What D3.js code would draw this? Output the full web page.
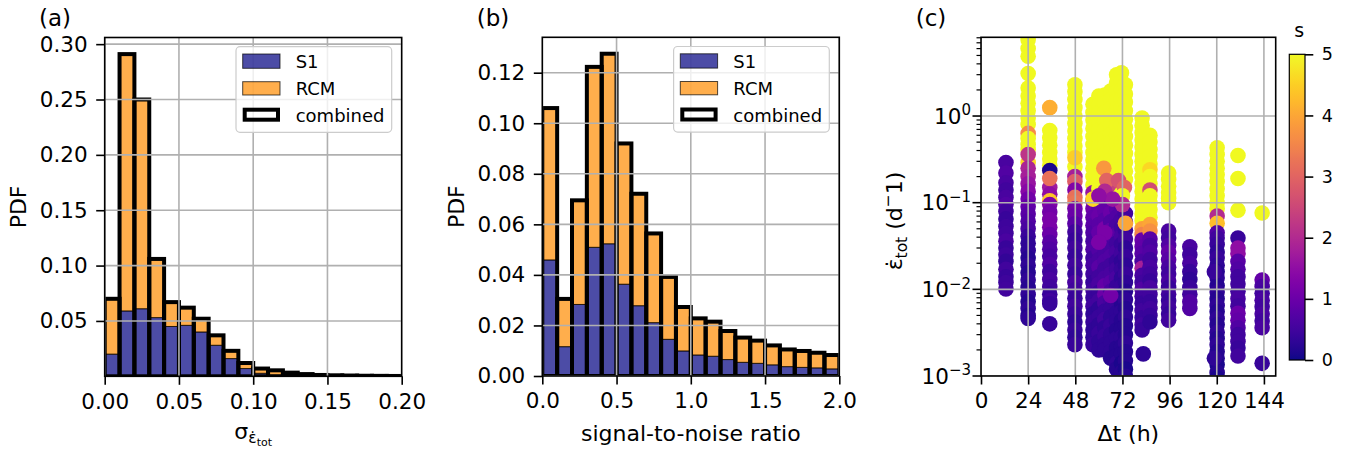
<!DOCTYPE html>
<html><head><meta charset="utf-8">
<script src="https://cdn.jsdelivr.net/npm/d3@7"></script>
<style>
body{margin:0;background:#fff;}
svg{display:block;font-family:"DejaVu Sans",sans-serif;}
</style></head><body>
<svg id="fig" width="1346" height="449"></svg>
<script>
// ---------------- data ----------------
const sigmaEdges = [0.00,0.01,0.02,0.03,0.04,0.05,0.06,0.07,0.08,0.09,0.10,0.11,0.12,0.13,0.14,0.15,0.16,0.17,0.18,0.19,0.20];
const sigmaS1  = [0.020,0.059,0.061,0.053,0.045,0.046,0.040,0.028,0.016,0.007,0.0027,0.001,0.0005,0.0003,0.0002,0.0001,0.0001,0.0001,0,0];
const sigmaRCM = [0.050,0.232,0.189,0.053,0.022,0.016,0.012,0.009,0.007,0.005,0.0043,0.0044,0.0028,0.0017,0.001,0.0008,0.0006,0.0004,0.0004,0.0003];
const sigmaXTicks = [0,0.05,0.10,0.15,0.20];
const sigmaYTicks = [0.05,0.10,0.15,0.20,0.25,0.30];

const snrEdges = [0.0,0.1,0.2,0.3,0.4,0.5,0.6,0.7,0.8,0.9,1.0,1.1,1.2,1.3,1.4,1.5,1.6,1.7,1.8,1.9,2.0];
const snrS1  = [0.0459,0.0116,0.0283,0.0509,0.0523,0.0363,0.0278,0.0211,0.0145,0.0099,0.0083,0.0078,0.0065,0.0054,0.0050,0.0044,0.0037,0.0034,0.0032,0.0028];
const snrRCM = [0.0601,0.0189,0.0412,0.0714,0.0752,0.0557,0.0443,0.0353,0.0247,0.0174,0.0145,0.0137,0.0113,0.0098,0.0090,0.0077,0.0068,0.0065,0.0060,0.0055];
const snrXTicks = [0,0.5,1.0,1.5,2.0];
const snrYTicks = [0,0.02,0.04,0.06,0.08,0.10,0.12];

const legendLabels = ["S1","RCM","combined"];

// panel (c): [rate (1/d), s] per Δt column
const pts12 = [[0.29,0.6],[0.22,0.7],[0.17,0.6],[0.14,0.5],[0.115,0.6],[0.095,0.7],[0.079,0.5],[0.065,0.4],[0.053,0.45],[0.044,0.5],[0.036,0.6],[0.03,0.4],[0.025,0.45],[0.021,0.35],[0.017,0.5],[0.014,0.4],[0.012,0.45],[0.0101,0.5]];
const pts24 = [[7.6,5],[6.0,5],[4.9,5],[3.1,5],[2.1,5],[1.7,5],[1.4,5],[1.15,5],[0.95,5],[0.8,5],[0.63,3.6],[0.55,5],[0.47,5],[0.41,5],[0.29,4.6],[0.36,2.2],[0.25,1.9],[0.2,1.8],[0.165,1.6],[0.135,1.4],[0.11,1.1],[0.09,0.9],[0.074,0.8],[0.061,0.7],[0.05,0.6],[0.041,0.4],[0.034,0.3],[0.028,0.3],[0.023,0.2],[0.019,0.3],[0.0155,0.2],[0.0128,0.3],[0.0105,0.2],[0.0087,0.3],[0.0072,0.2],[0.006,0.3],[0.005,0.2],[0.0046,0.3]];
const pts36 = [[1.25,4.1],[0.68,5],[0.56,5],[0.46,5],[0.38,5],[0.32,5],[0.27,5],[0.235,0.1],[0.15,1.7],[0.19,3.2],[0.125,1.5],[0.105,4.4],[0.095,1.3],[0.078,1.1],[0.064,1.2],[0.052,1.2],[0.043,1.0],[0.035,0.8],[0.029,0.7],[0.024,0.6],[0.0195,0.7],[0.016,0.5],[0.013,0.6],[0.0107,0.5],[0.0088,0.4],[0.0074,0.5],[0.0068,0.4],[0.004,0.4]];
const pts48 = [[2.3,5],[1.9,5],[1.55,5],[1.25,5],[1.0,5],[0.82,5],[0.67,5],[0.55,5],[0.45,5],[0.38,5],[0.26,5],[0.33,4.5],[0.2,1.8],[0.175,2.9],[0.14,1.3],[0.115,3.2],[0.1,3.3],[0.085,1.1],[0.07,1.0],[0.057,0.8],[0.046,0.5],[0.037,0.4],[0.03,0.5],[0.024,0.4],[0.019,0.5],[0.015,0.4],[0.012,0.6],[0.0098,0.5],[0.0079,0.4],[0.0064,0.5],[0.0052,0.4],[0.0042,0.3],[0.0034,0.4],[0.0028,0.3],[0.0023,0.4]];
const pts57 = [[1.37,5],[1.1,5],[0.9,5],[0.72,5],[0.58,5],[0.47,5],[0.38,5],[0.31,5],[0.25,5],[0.2,5],[0.16,5],[0.13,1.6],[0.105,1.3],[0.085,1.1],[0.068,0.9],[0.055,0.8],[0.045,0.7],[0.036,0.6],[0.029,0.7],[0.023,0.5],[0.019,0.6],[0.015,0.5],[0.012,0.4],[0.0098,0.5],[0.008,0.4],[0.0064,0.5],[0.0052,0.3],[0.0042,0.4],[0.0034,0.3],[0.0028,0.3],[0.0023,0.4]];
const pts60 = [[1.7,5],[1.35,5],[1.08,5],[0.86,5],[0.69,5],[0.55,5],[0.44,5],[0.35,5],[0.28,5],[0.22,5],[0.18,5],[0.145,5],[0.11,1.2],[0.088,0.9],[0.07,1.0],[0.056,0.8],[0.045,0.9],[0.035,1.2],[0.028,0.7],[0.022,0.6],[0.018,0.8],[0.014,0.5],[0.0115,0.6],[0.0092,0.4],[0.0074,0.5],[0.006,0.3],[0.0048,0.4],[0.0039,0.3],[0.0031,0.4],[0.0025,0.3],[0.002,0.3]];
const pts63 = [[1.75,5],[1.4,5],[1.1,5],[0.88,5],[0.7,5],[0.56,5],[0.45,5],[0.36,5],[0.29,5],[0.23,5],[0.19,5],[0.15,5],[0.125,5],[0.1,1.1],[0.08,0.9],[0.063,0.8],[0.05,1.2],[0.04,1.1],[0.032,0.8],[0.026,0.6],[0.021,0.7],[0.017,0.5],[0.0135,0.6],[0.011,0.9],[0.0088,1.0],[0.007,0.6],[0.0056,0.4],[0.0045,0.5],[0.0036,0.3],[0.0029,0.4],[0.0023,0.3],[0.002,0.3]];
const pts66 = [[1.94,5],[1.55,5],[1.22,5],[0.97,5],[0.77,5],[0.61,5],[0.49,5],[0.39,5],[0.31,5],[0.25,5],[0.2,5],[0.16,5],[0.13,5],[0.095,0.9],[0.076,1.0],[0.06,0.7],[0.048,0.9],[0.038,0.8],[0.03,0.6],[0.024,0.7],[0.019,0.5],[0.015,0.6],[0.012,0.8],[0.0095,0.6],[0.0076,0.5],[0.006,0.4],[0.0048,0.3],[0.0038,0.4],[0.003,0.3],[0.0024,0.3],[0.0019,0.3],[0.0016,0.2]];
const pts69 = [[3.0,5],[2.4,5],[1.9,5],[1.5,5],[1.2,5],[0.95,5],[0.76,5],[0.6,5],[0.48,5],[0.38,5],[0.3,5],[0.24,5],[0.19,5],[0.15,5],[0.12,5],[0.085,0.8],[0.068,0.7],[0.054,0.6],[0.043,0.8],[0.034,0.5],[0.027,0.6],[0.021,0.4],[0.017,0.5],[0.0135,0.6],[0.0107,0.4],[0.0085,0.3],[0.0068,0.4],[0.0054,0.3],[0.0043,0.3],[0.0034,0.2],[0.0027,0.3],[0.0021,0.2],[0.0017,0.2],[0.0014,0.3],[0.0012,0.2]];
const pts71 = [[3.16,5],[2.5,5],[2.0,5],[1.6,5],[1.25,5],[1.0,5],[0.8,5],[0.63,5],[0.5,5],[0.4,5],[0.32,5],[0.25,5],[0.2,5],[0.16,5],[0.13,5],[0.08,0.7],[0.064,0.6],[0.051,0.5],[0.041,0.6],[0.033,0.4],[0.026,0.5],[0.021,0.3],[0.017,0.4],[0.0135,0.3],[0.0108,0.4],[0.0086,0.3],[0.0069,0.2],[0.0055,0.3],[0.0044,0.2],[0.0035,0.2],[0.0028,0.3],[0.0022,0.2],[0.0018,0.2],[0.0014,0.1],[0.0011,0.2]];
const pts73 = [[2.3,5],[1.8,5],[1.45,5],[1.15,5],[0.92,5],[0.73,5],[0.58,5],[0.46,5],[0.37,5],[0.29,5],[0.23,5],[0.185,5],[0.075,0.5],[0.06,0.6],[0.048,0.4],[0.038,0.5],[0.03,0.3],[0.024,0.4],[0.019,0.3],[0.015,0.4],[0.012,0.3],[0.0095,0.2],[0.0076,0.3],[0.006,0.2],[0.0048,0.3],[0.0038,0.2],[0.003,0.2],[0.0024,0.3],[0.0019,0.2],[0.0015,0.2],[0.0012,0.1],[0.001,0.2]];
const pts82 = [[0.95,5],[0.78,5],[0.64,5],[0.53,5],[0.44,5],[0.36,5],[0.3,5],[0.25,5],[0.2,5],[0.165,5],[0.135,5],[0.11,5],[0.09,5],[0.074,5],[0.062,5],[0.05,3.9],[0.043,3.5],[0.037,1.0],[0.031,0.9],[0.026,0.8],[0.021,0.6],[0.0175,1.8],[0.0145,0.6],[0.012,0.5],[0.01,0.7],[0.0083,0.5],[0.0069,0.4],[0.0057,0.5],[0.0047,0.4],[0.0039,0.5],[0.0034,0.4]];
const pts86 = [[0.6,5],[0.5,5],[0.41,5],[0.34,5],[0.28,5],[0.24,4.6],[0.2,5],[0.165,5],[0.14,2.6],[0.12,5],[0.1,5],[0.083,5],[0.068,5],[0.056,4.0],[0.047,3.7],[0.038,0.8],[0.032,0.6],[0.027,0.7],[0.022,0.5],[0.018,0.6],[0.015,0.5],[0.0125,0.4],[0.0104,0.6],[0.0087,0.5],[0.0072,0.4],[0.006,0.5],[0.005,0.4],[0.0042,0.3]];
const pts96 = [[0.22,5],[0.185,5],[0.155,5],[0.13,5],[0.112,5],[0.1,5],[0.047,0.6],[0.039,0.5],[0.032,0.7],[0.027,0.9],[0.022,0.8],[0.018,0.6],[0.015,0.5],[0.0125,0.6],[0.0105,0.4],[0.0088,0.5],[0.0074,0.4],[0.0062,0.5],[0.0052,0.4],[0.0044,0.5]];
const pts108 = [[0.031,0.6],[0.025,0.5],[0.02,0.6],[0.016,0.4],[0.013,0.3],[0.0105,0.4],[0.0088,0.5],[0.0072,0.7],[0.006,0.7]];
const pts120 = [[0.43,5],[0.36,5],[0.3,5],[0.25,5],[0.21,5],[0.175,5],[0.145,5],[0.12,5],[0.1,5],[0.085,5],[0.07,2.0],[0.058,4.3],[0.045,0.7],[0.039,0.5],[0.033,0.4],[0.027,0.3],[0.023,0.4],[0.019,0.3],[0.016,0.2],[0.0135,0.3],[0.011,0.2],[0.0093,0.3],[0.0078,0.2],[0.0065,0.3],[0.0055,0.2],[0.0046,0.3],[0.0039,0.2],[0.0032,0.3],[0.0027,0.2],[0.0023,0.3],[0.0019,0.2],[0.0016,0.2],[0.00135,0.1],[0.0011,0.2],[0.00095,0.1]];
const pts130 = [[0.35,5],[0.19,5],[0.082,5],[0.039,0.4],[0.03,1.5],[0.026,1.5],[0.021,0.8],[0.017,0.7],[0.014,0.5],[0.0115,0.5],[0.0095,0.5],[0.0078,0.6],[0.0064,0.5],[0.0053,1.0],[0.0044,0.9],[0.0036,0.7],[0.003,0.5],[0.0025,0.5],[0.0021,0.4],[0.0017,0.5]];
const pts144 = [[0.076,5],[0.0128,0.9],[0.0108,0.6],[0.009,0.5],[0.0075,0.6],[0.0063,0.5],[0.0052,0.6],[0.0043,0.5],[0.0036,0.6],[0.0014,0.4]];
const columnDt = [12.7,24,35,47.8,57,60,63,66,69,71.5,73.5,82,86,95.5,106.3,120.2,130.8,143.1];
const columnPts = [pts12,pts24,pts36,pts48,pts57,pts60,pts63,pts66,pts69,pts71,pts73,pts82,pts86,pts96,pts108,pts120,pts130,pts144];
// points drawn last: [Δt, rate, s]
const extraPts = [[62.5,0.25,3.8],[65,0.16,2.4],[64,0.18,3.0],[63,0.135,2.0],[57,0.11,4.6],[70,0.18,2.7],[73,0.15,3.0],[72,0.12,5],[72,0.095,2.0],[73.5,0.058,4.0],[67,0.11,1.6],[60,0.12,1.5],[82.6,0.0018,0.3],[118.8,0.016,0.4],[118.8,0.0016,0.3],[63,0.045,1.2],[66,0.0085,1.1],[60,0.035,1.2]];
const dtTicks = [0,24,48,72,96,120,144];
const rateTicks = [1e-3,1e-2,1e-1,1];
const rateExp = ["\u22123","\u22122","\u22121","0"];
const sTicks = [0,1,2,3,4,5];

// ---------------- drawing ----------------
const svg = d3.select('#fig');
const TICKFS = 21.5, LABFS = 22, LEGFS = 18, TAGFS = 23, TAGY = 25.5;
const GRID = '#b0b0b0';

function styleAxis(ax, fs){
  ax.select('.domain').remove();
  ax.selectAll('line').attr('stroke','#000').attr('stroke-width',1.6);
  ax.selectAll('text').attr('font-size',fs).attr('fill','#000').attr('font-family','DejaVu Sans');
}

function legend(g, xr, yt){
  const bx = xr-165.7, by = yt+9.2;
  g.append('rect').attr('x',bx).attr('y',by).attr('width',155.7).attr('height',85.6)
    .attr('rx',4).attr('fill','#fff').attr('fill-opacity',0.8).attr('stroke','#cccccc').attr('stroke-width',1.2);
  const px = bx+6.7;
  g.append('rect').attr('x',px).attr('y',by+7.3).attr('width',37.3).attr('height',14.3)
    .attr('fill','#000080').attr('fill-opacity',0.7).attr('stroke','#000').attr('stroke-opacity',0.7).attr('stroke-width',1);
  g.append('rect').attr('x',px).attr('y',by+35).attr('width',37.3).attr('height',13.3)
    .attr('fill','#ff8c00').attr('fill-opacity',0.7).attr('stroke','#000').attr('stroke-opacity',0.7).attr('stroke-width',1);
  g.append('rect').attr('x',px+2).attr('y',by+63).attr('width',33.3).attr('height',10)
    .attr('fill','none').attr('stroke','#000').attr('stroke-width',4);
  const base = [21.6,48.3,75];
  legendLabels.forEach((t,i)=>{
    g.append('text').attr('x',bx+59.7).attr('y',by+base[i]).attr('font-size',LEGFS).text(t);
  });
}

function histPanel(o){
  const g = svg.append('g');
  const x = d3.scaleLinear().domain(o.xDom).range([o.x0,o.x1]);
  const y = d3.scaleLinear().domain(o.yDom).range([o.y1,o.y0]);
  svg.append('clipPath').attr('id',o.id).append('rect')
    .attr('x',o.x0).attr('y',o.y0).attr('width',o.x1-o.x0).attr('height',o.y1-o.y0);
  const plot = g.append('g').attr('clip-path',`url(#${o.id})`);
  const bins = o.s1.map((v,i)=>({a:o.edges[i],b:o.edges[i+1],s1:v,rcm:o.rcm[i]}));
  plot.selectAll('rect.s1').data(bins).join('rect').attr('class','s1')
    .attr('x',d=>x(d.a)).attr('width',d=>x(d.b)-x(d.a))
    .attr('y',d=>y(d.s1)).attr('height',d=>y(0)-y(d.s1))
    .attr('fill','#000080').attr('fill-opacity',0.7).attr('stroke','#000').attr('stroke-opacity',0.7).attr('stroke-width',1);
  plot.selectAll('rect.rcm').data(bins).join('rect').attr('class','rcm')
    .attr('x',d=>x(d.a)).attr('width',d=>x(d.b)-x(d.a))
    .attr('y',d=>y(d.s1+d.rcm)).attr('height',d=>y(d.s1)-y(d.s1+d.rcm))
    .attr('fill','#ff8c00').attr('fill-opacity',0.7).attr('stroke','#000').attr('stroke-opacity',0.7).attr('stroke-width',1);
  plot.selectAll('rect.comb').data(bins).join('rect').attr('class','comb')
    .attr('x',d=>x(d.a)).attr('width',d=>x(d.b)-x(d.a))
    .attr('y',d=>y(d.s1+d.rcm)).attr('height',d=>y(0)-y(d.s1+d.rcm))
    .attr('fill','none').attr('stroke','#000').attr('stroke-width',4);
  // grid
  plot.selectAll('line.gx').data(o.xTicks).join('line').attr('class','gx')
    .attr('x1',d=>x(d)).attr('x2',d=>x(d)).attr('y1',o.y0).attr('y2',o.y1).attr('stroke',GRID).attr('stroke-width',1.6);
  plot.selectAll('line.gy').data(o.yTicks).join('line').attr('class','gy')
    .attr('y1',d=>y(d)).attr('y2',d=>y(d)).attr('x1',o.x0).attr('x2',o.x1).attr('stroke',GRID).attr('stroke-width',1.6);
  // frame
  g.append('rect').attr('x',o.x0).attr('y',o.y0).attr('width',o.x1-o.x0).attr('height',o.y1-o.y0)
    .attr('fill','none').attr('stroke','#000').attr('stroke-width',1.6);
  const ax = g.append('g').attr('transform',`translate(0,${o.y1})`)
    .call(d3.axisBottom(x).tickValues(o.xTicks).tickFormat(d3.format(o.xFmt)).tickSize(8.5).tickPadding(8.5));
  styleAxis(ax, TICKFS);
  const ay = g.append('g').attr('transform',`translate(${o.x0},0)`)
    .call(d3.axisLeft(y).tickValues(o.yTicks).tickFormat(d3.format(o.yFmt)).tickSize(8.5).tickPadding(8.5));
  styleAxis(ay, TICKFS);
  g.append('text').attr('transform',`translate(${o.x0-78.7},${(o.y0+o.y1)/2}) rotate(-90)`)
    .attr('text-anchor','middle').attr('font-size',LABFS).text('PDF');
  legend(g, o.x1, o.y0);
  g.append('text').attr('x',o.tagX).attr('y',TAGY).attr('font-size',TAGFS).text(o.tag);
  return {g,x,y};
}

// (a)
const A = histPanel({id:'clipA',x0:104.7,x1:401.7,y0:37.5,y1:376.3,xDom:[0,0.2],yDom:[0,0.306],
  edges:sigmaEdges,s1:sigmaS1,rcm:sigmaRCM,xTicks:sigmaXTicks,yTicks:sigmaYTicks,xFmt:'.2f',yFmt:'.2f',tag:'(a)',tagX:39});
{
  const t = A.g.append('text').attr('x',253.2).attr('y',439).attr('text-anchor','middle').attr('font-size',LABFS);
  t.append('tspan').text('σ');
  t.append('tspan').attr('font-size',15.5).attr('dy',4).text('ε\u0307');
  t.append('tspan').attr('font-size',11).attr('dy',3).text('tot');
}
// (b)
const B = histPanel({id:'clipB',x0:542.3,x1:839.3,y0:37.3,y1:376,xDom:[0,2],yDom:[0,0.134],
  edges:snrEdges,s1:snrS1,rcm:snrRCM,xTicks:snrXTicks,yTicks:snrYTicks,xFmt:'.1f',yFmt:'.2f',tag:'(b)',tagX:476.7});
B.g.append('text').attr('x',690.8).attr('y',440.5).attr('text-anchor','middle').attr('font-size',LABFS).text('signal-to-noise ratio');

// (c)
{
  const C = {x0:981,x1:1275.7,y0:37.3,y1:376};
  const g = svg.append('g');
  const x = d3.scaleLinear().domain([0,150]).range([C.x0,C.x1]);
  const y = d3.scaleLog().domain([1e-3,8.1]).range([C.y1,C.y0]);
  const color = s => d3.interpolatePlasma(Math.max(0,Math.min(5,s))/5);
  svg.append('clipPath').attr('id','clipC').append('rect')
    .attr('x',C.x0).attr('y',C.y0).attr('width',C.x1-C.x0).attr('height',C.y1-C.y0);
  const plot = g.append('g').attr('clip-path','url(#clipC)');
  const all = [];
  columnPts.forEach((arr,ci)=>arr.forEach(p=>all.push([columnDt[ci],p[0],p[1]])));
  extraPts.forEach(p=>all.push(p));
  plot.selectAll('circle').data(all).join('circle')
    .attr('cx',d=>x(d[0])).attr('cy',d=>y(d[1])).attr('r',7.8).attr('fill',d=>color(d[2]));
  plot.selectAll('line.gx').data(dtTicks).join('line').attr('class','gx')
    .attr('x1',d=>x(d)).attr('x2',d=>x(d)).attr('y1',C.y0).attr('y2',C.y1).attr('stroke',GRID).attr('stroke-width',1.6);
  plot.selectAll('line.gy').data(rateTicks).join('line').attr('class','gy')
    .attr('y1',d=>y(d)).attr('y2',d=>y(d)).attr('x1',C.x0).attr('x2',C.x1).attr('stroke',GRID).attr('stroke-width',1.6);
  g.append('rect').attr('x',C.x0).attr('y',C.y0).attr('width',C.x1-C.x0).attr('height',C.y1-C.y0)
    .attr('fill','none').attr('stroke','#000').attr('stroke-width',1.6);
  const ax = g.append('g').attr('transform',`translate(0,${C.y1})`)
    .call(d3.axisBottom(x).tickValues(dtTicks).tickFormat(d3.format('d')).tickSize(8.5).tickPadding(8.5));
  styleAxis(ax, TICKFS);
  const minor = [];
  [1e-3,1e-2,1e-1,1].forEach(dec=>{for(let k=2;k<=9;k++){const v=k*dec; if(v<=8.1) minor.push(v);}});
  g.selectAll('line.ymin').data(minor).join('line').attr('class','ymin')
    .attr('x1',C.x0).attr('x2',C.x0-4.5).attr('y1',d=>y(d)).attr('y2',d=>y(d)).attr('stroke','#000').attr('stroke-width',1.2);
  g.selectAll('line.ymaj').data(rateTicks).join('line').attr('class','ymaj')
    .attr('x1',C.x0).attr('x2',C.x0-8.5).attr('y1',d=>y(d)).attr('y2',d=>y(d)).attr('stroke','#000').attr('stroke-width',1.6);
  rateTicks.forEach((v,i)=>{
    const t = g.append('text').attr('x',971).attr('y',y(v)+7.8).attr('text-anchor','end').attr('font-size',TICKFS);
    t.append('tspan').text('10');
    t.append('tspan').attr('font-size',15).attr('dy',-8.5).text(rateExp[i]);
  });
  g.append('text').attr('x',1128.3).attr('y',440.7).attr('text-anchor','middle').attr('font-size',LABFS).text('\u0394t (h)');
  const yl = g.append('text').attr('transform','translate(902,221) rotate(-90)').attr('text-anchor','middle').attr('font-size',LABFS);
  yl.append('tspan').text('ε\u0307');
  yl.append('tspan').attr('font-size',15.5).attr('dy',5).text('tot');
  yl.append('tspan').attr('dy',-5).text(' (d');
  yl.append('tspan').attr('font-size',15.5).attr('dy',-9).text('\u2212');
  yl.append('tspan').attr('dy',9).text('1)');
  g.append('text').attr('x',915.7).attr('y',TAGY).attr('font-size',TAGFS).text('(c)');

  // colorbar
  const cb = {x0:1289.3,x1:1305,y0:54.3,y1:360};
  const grad = svg.append('defs').append('linearGradient').attr('id','plasmaGrad')
    .attr('x1',0).attr('y1',1).attr('x2',0).attr('y2',0);
  d3.range(0,1.0001,0.02).forEach(t=>grad.append('stop').attr('offset',t).attr('stop-color',d3.interpolatePlasma(t)));
  g.append('rect').attr('x',cb.x0).attr('y',cb.y0).attr('width',cb.x1-cb.x0).attr('height',cb.y1-cb.y0)
    .attr('fill','url(#plasmaGrad)').attr('stroke','#000').attr('stroke-width',1.2);
  const sy = d3.scaleLinear().domain([0,5]).range([cb.y1,cb.y0]);
  const ac = g.append('g').attr('transform',`translate(${cb.x1},0)`)
    .call(d3.axisRight(sy).tickValues(sTicks).tickFormat(d3.format('d')).tickSize(8.3).tickPadding(8.4));
  styleAxis(ac, 17.5);
  g.append('text').attr('x',1299.3).attr('y',37.3).attr('text-anchor','middle').attr('font-size',19).text('s');
}
</script>
</body></html>
